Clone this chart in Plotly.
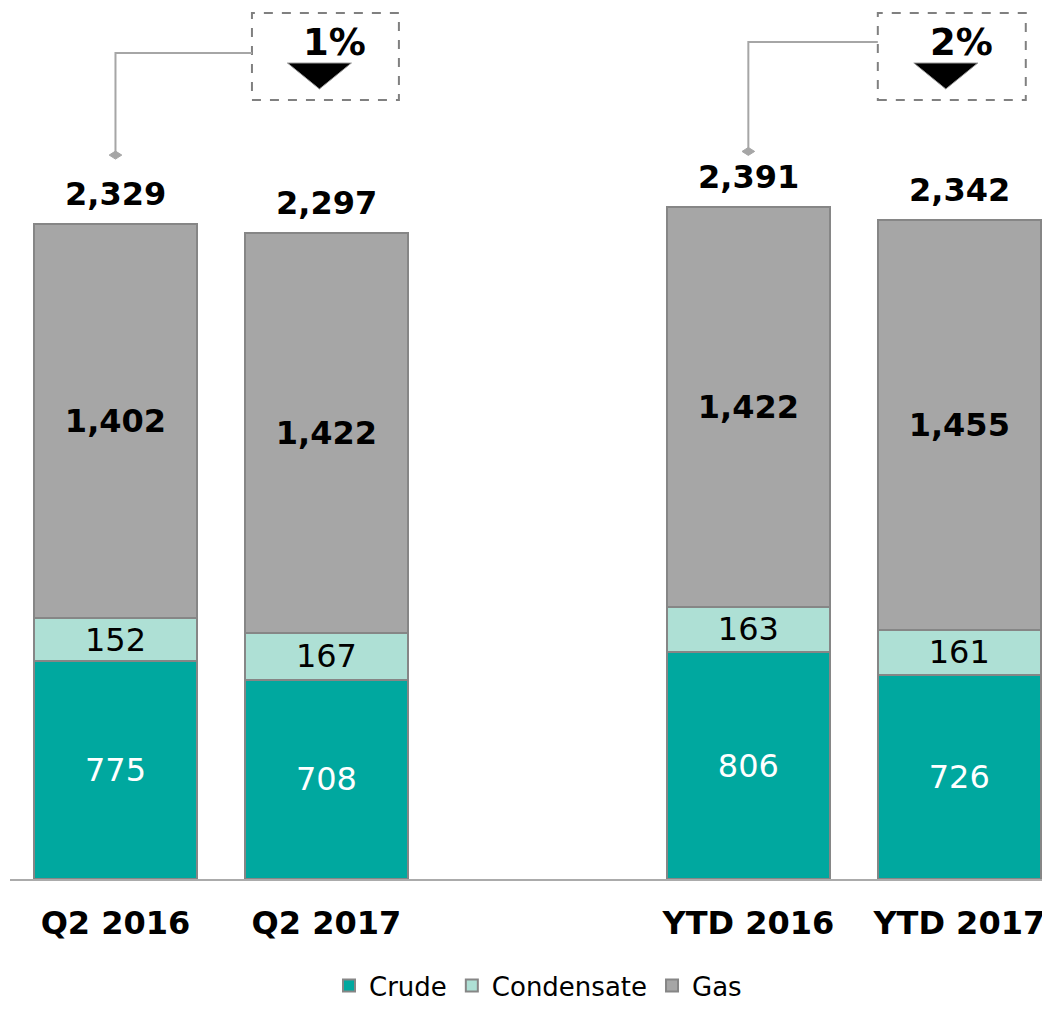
import plotly.graph_objects as go

categories = ["Q2 2016", "Q2 2017", "YTD 2016", "YTD 2017"]
positions = [0, 1, 3, 4]
crude = [775, 708, 806, 726]
condensate = [152, 167, 163, 161]
gas = [1402, 1422, 1422, 1455]
totals = [2329, 2297, 2391, 2342]
changes = ["1%", "2%"]

FONT = "Verdana, DejaVu Sans, sans-serif"
C_CRUDE = "#00A89F"
C_COND = "#AEE0D5"
C_GAS = "#A6A6A6"
OUTLINE = "#868686"

# page body has an 8px margin; figure is sized so it fills the window
OFF = 8
W, H = 1050 - OFF, 1009 - OFF
BASE = 879          # screen y of the baseline
SCALE = 0.2812      # px per unit


def px(v):
    return v / SCALE


def sy(y_screen):
    """screen y -> data value"""
    return px(BASE - y_screen)


def sx(x_screen):
    """screen x -> category coordinate"""
    return (x_screen - 10) / 211 - 0.5


fig = go.Figure()
common = dict(x=positions, width=0.77, textposition="inside", insidetextanchor="middle",
              cliponaxis=False, hoverinfo="skip")
fig.add_trace(go.Bar(name="Crude", y=crude, text=[f"{v:,}" for v in crude],
                     marker=dict(color=C_CRUDE, line=dict(color=OUTLINE, width=2)),
                     textfont=dict(family=FONT, size=32, color="white"), **common))
fig.add_trace(go.Bar(name="Condensate", y=condensate, text=[f"{v:,}" for v in condensate],
                     marker=dict(color=C_COND, line=dict(color=OUTLINE, width=2)),
                     textfont=dict(family=FONT, size=32, color="black"), **common))
fig.add_trace(go.Bar(name="Gas", y=gas, text=[f"<b>{v:,}</b>" for v in gas],
                     marker=dict(color=C_GAS, line=dict(color=OUTLINE, width=2)),
                     textfont=dict(family=FONT, size=32, color="black"), **common))

# totals above bars
for x, t in zip(positions, totals):
    fig.add_annotation(x=x, y=t, text=f"<b>{t:,}</b>", showarrow=False, yanchor="bottom",
                       yshift=9, font=dict(family=FONT, size=32, color="black"))

# change callouts
callouts = [
    dict(first=0, box=(252, 399), hy=53, label=changes[0]),
    dict(first=3, box=(878, 1026), hy=42, label=changes[1]),
]
for c in callouts:
    first = c["first"]
    bx0, bx1 = sx(c["box"][0]), sx(c["box"][1])
    fig.add_shape(type="rect", x0=bx0, x1=bx1, y0=sy(100), y1=sy(13),
                  line=dict(color="#808080", width=2, dash="dash"), fillcolor="rgba(0,0,0,0)")
    hy = sy(c["hy"])
    dy = totals[first] + px(69)
    fig.add_shape(type="path",
                  path=f"M {bx0},{hy} L {first},{hy} L {first},{dy}",
                  line=dict(color="#A6A6A6", width=2))
    dw, dh = 0.03, px(4)
    fig.add_shape(type="path",
                  path=f"M {first-dw},{dy} L {first},{dy+dh} L {first+dw},{dy} L {first},{dy-dh} Z",
                  fillcolor="#A6A6A6", line=dict(color="#A6A6A6", width=1))
    mid = (bx0 + bx1) / 2
    cx = mid - 6 / 211
    hw = 32 / 211
    ty, ay = sy(63), sy(89)
    fig.add_shape(type="path",
                  path=f"M {cx-hw},{ty} L {cx+hw},{ty} L {cx},{ay} Z",
                  fillcolor="black", line=dict(color="#9a9a9a", width=1))
    fig.add_annotation(x=mid + 9.5 / 211, y=sy(42), text=f"<b>{c['label']}</b>", showarrow=False,
                       font=dict(family=FONT, size=37, color="black"))

fig.update_layout(
    barmode="stack",
    width=W, height=H,
    margin=dict(l=10 - OFF, r=0, t=0, b=H - (BASE - OFF), pad=0, autoexpand=False),
    plot_bgcolor="white", paper_bgcolor="white",
    font=dict(family=FONT, color="black"),
    showlegend=True,
    legend=dict(orientation="h", x=(538 - 10) / 1040, xanchor="center",
                yref="container", y=0.0, yanchor="bottom",
                font=dict(family=FONT, size=26, color="black"), traceorder="normal",
                itemwidth=30, tracegroupgap=0),
    uniformtext=dict(minsize=32, mode="show"),
    xaxis=dict(range=[-0.5, 4.43], tickvals=positions,
               ticktext=[f"<b>{c}</b>" for c in categories],
               tickfont=dict(family=FONT, size=32, color="black"),
               ticklabelstandoff=15, automargin=False,
               showgrid=False, zeroline=False, showline=True, linecolor="#ABABAB", linewidth=2,
               ticks="", fixedrange=True),
    yaxis=dict(range=[0, px(BASE - OFF)], visible=False, showgrid=False, zeroline=False,
               fixedrange=True),
)

fig.write_html("out.html")
